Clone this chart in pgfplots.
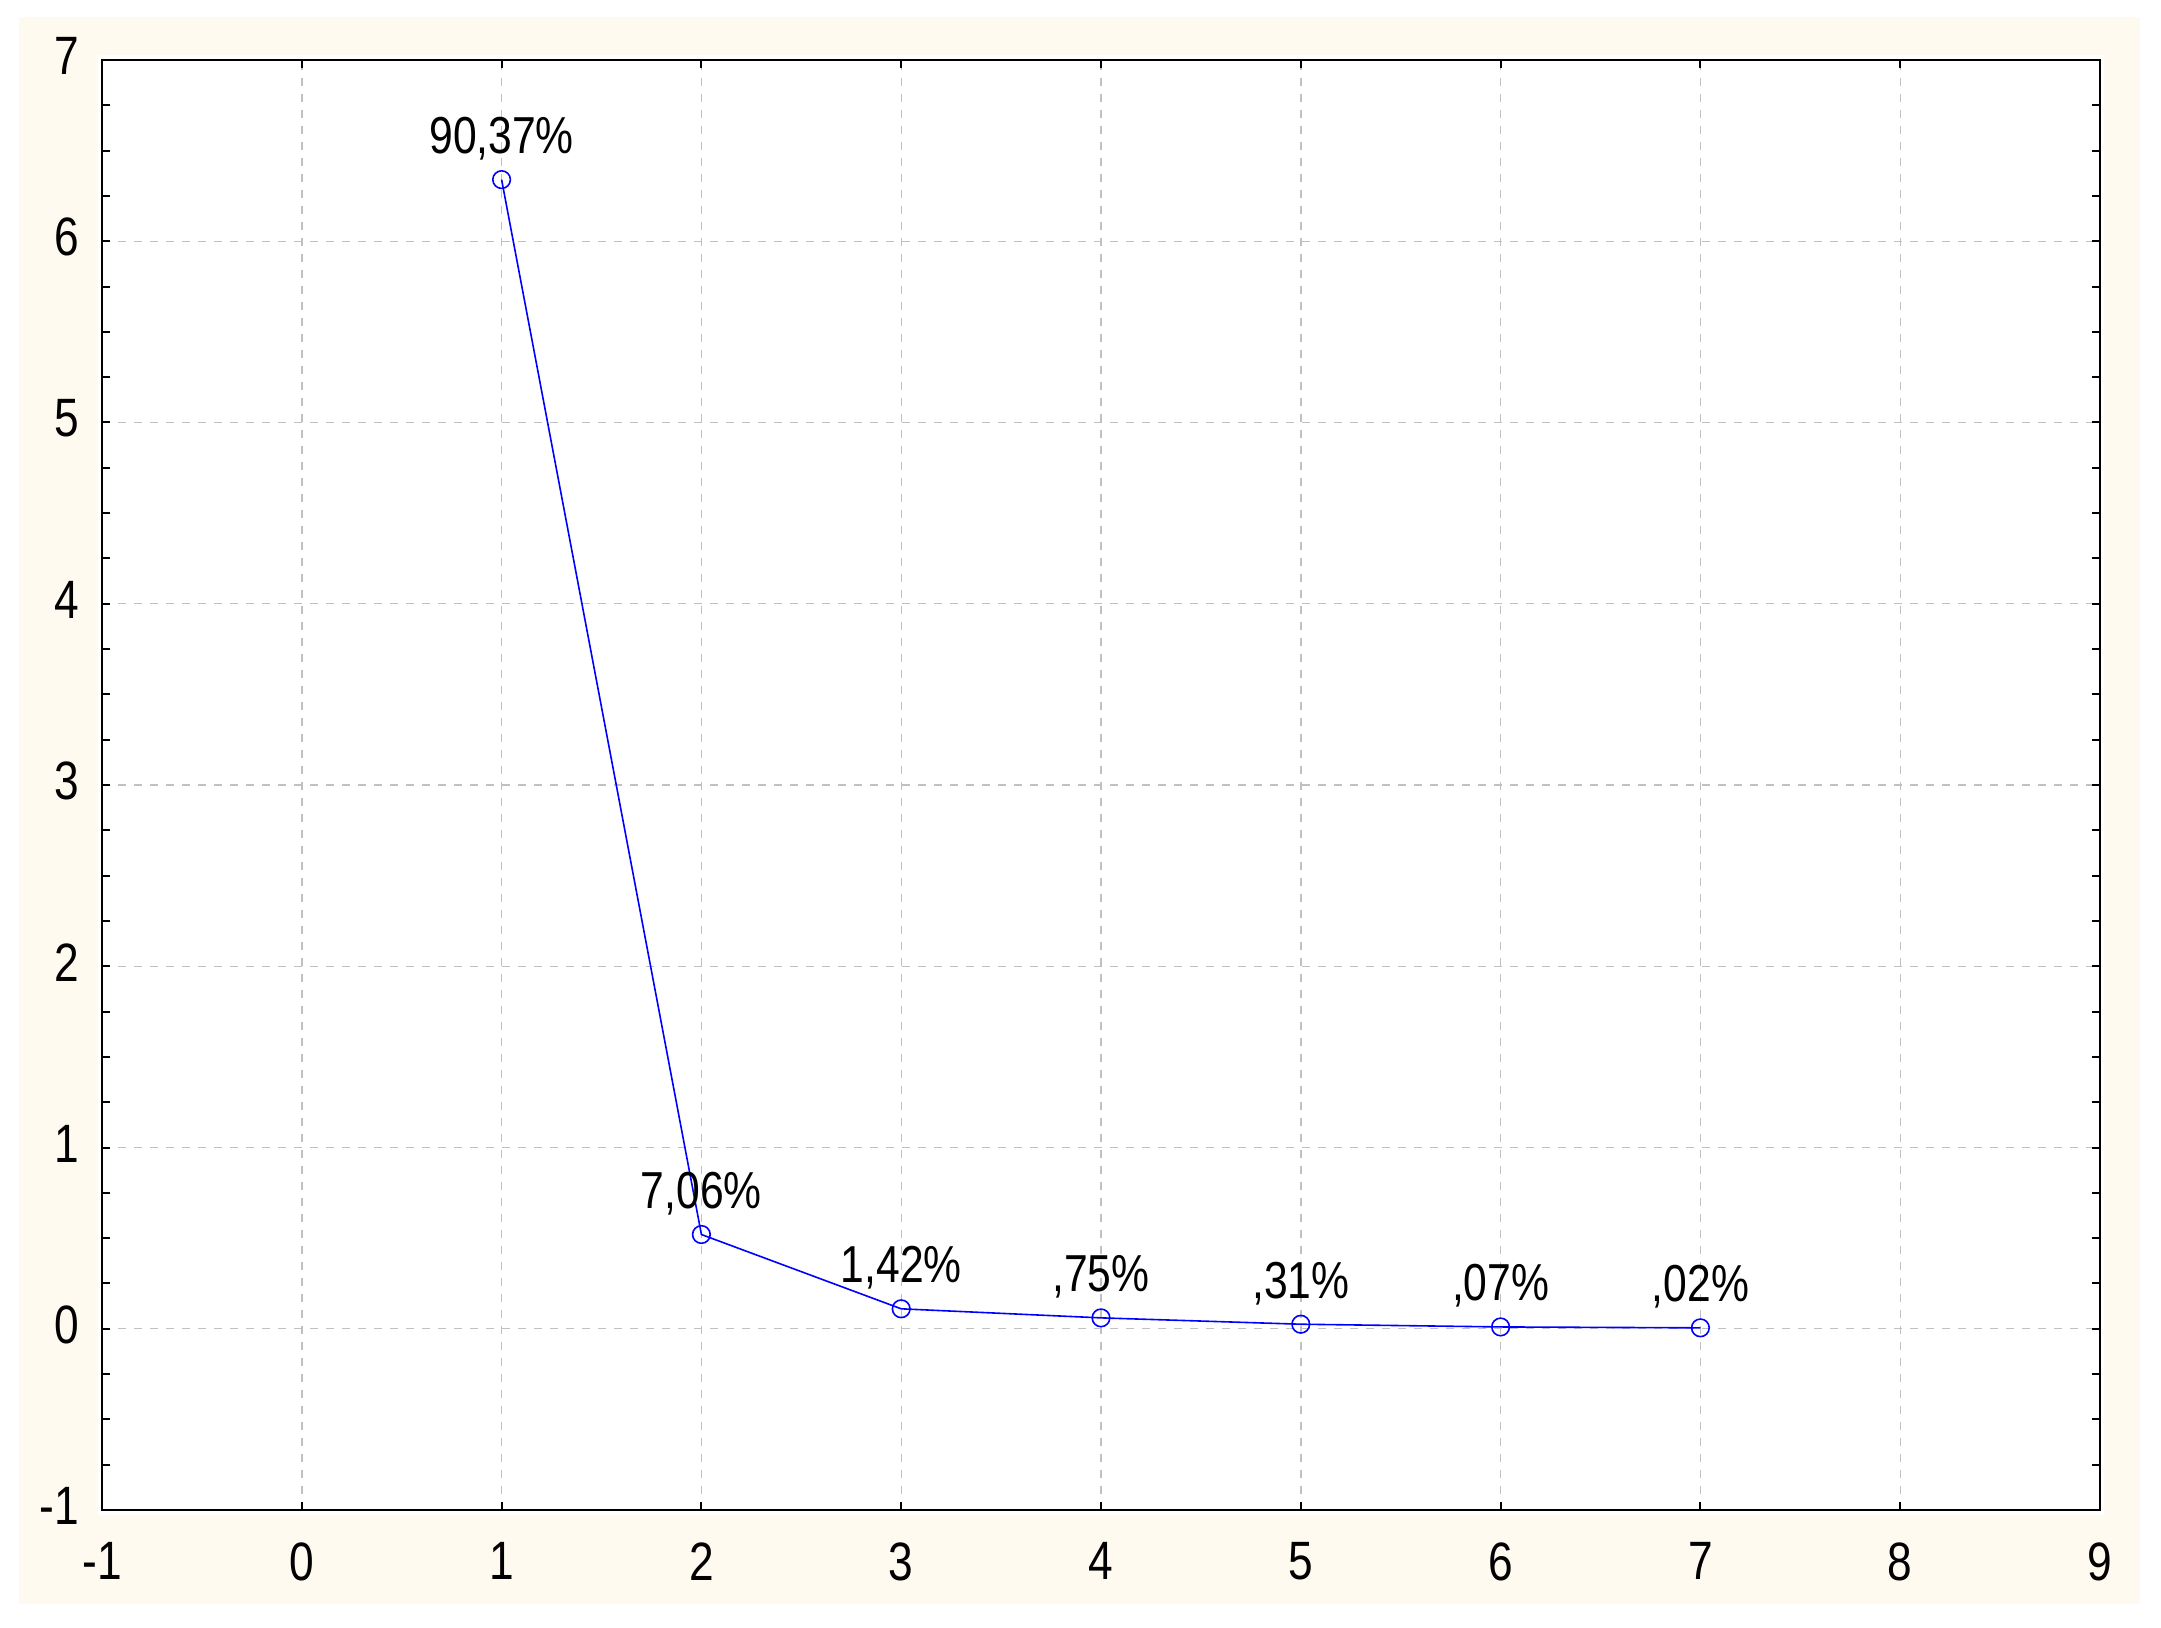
\documentclass[border=0pt]{standalone}
\usepackage{pgfplots}
\pgfplotsset{compat=1.18}
\usepackage{fontspec}
\setmainfont{Liberation Sans}
\newfontfamily\narrowfont[FakeStretch=0.82]{Liberation Sans}
\definecolor{cream}{RGB}{255,250,240}
\definecolor{gridgray}{RGB}{192,192,192}
\definecolor{lineblue}{RGB}{0,0,255}
\begin{document}
\begin{tikzpicture}
\useasboundingbox (-25.5pt,-29.25pt) rectangle (514.75pt,377.5pt);
\fill[cream] (-20.75pt,-23.5pt) rectangle (509.5pt,373.25pt);
\fill[white] (-1pt,-1.2pt) rectangle (500.6pt,363.8pt);
\begin{axis}[
  at={(0pt,0pt)}, anchor=south west,
  scale only axis, width=499.5pt, height=362.5pt,
  xmin=-1, xmax=9, ymin=-1, ymax=7,
  xtick={-1,0,...,9}, ytick={-1,0,...,7},
  xticklabels={-1,0,1,2,3,4,5,6,7,8,9},
  yticklabels={-1,0,1,2,3,4,5,6,7},
  minor y tick num=3,
  tick align=inside,
  major tick length=2pt, minor tick length=2pt,
  every tick/.style={black, line width=0.5pt},
  axis line style={black, line width=0.5pt},
  xmajorgrids, ymajorgrids,
  major grid style={gridgray, line width=0.35pt, dash pattern=on 2pt off 2pt},
  xticklabel style={font=\narrowfont\fontsize{13.5}{16}\selectfont, anchor=north, inner sep=0pt, yshift=-8pt},
  yticklabel style={font=\narrowfont\fontsize{13.5}{16}\selectfont, anchor=east, inner sep=0pt, xshift=-5.5pt, yshift=1pt},
  point meta=explicit symbolic,
  nodes near coords,
  every node near coord/.append style={font=\narrowfont\fontsize{13}{15}\selectfont, anchor=base, inner sep=0pt, yshift=6.5pt, black},
]
\addplot[lineblue, line width=0.4pt, mark=o, mark size=2.2pt,
  mark options={fill=white, line width=0.4pt}] coordinates {
  (1,6.34) [90,37\%]
  (2,0.52) [7,06\%]
  (3,0.11) [1,42\%]
  (4,0.06) [,75\%]
  (5,0.025) [,31\%]
  (6,0.01) [,07\%]
  (7,0.005) [,02\%]
};
\end{axis}
\end{tikzpicture}
\end{document}
